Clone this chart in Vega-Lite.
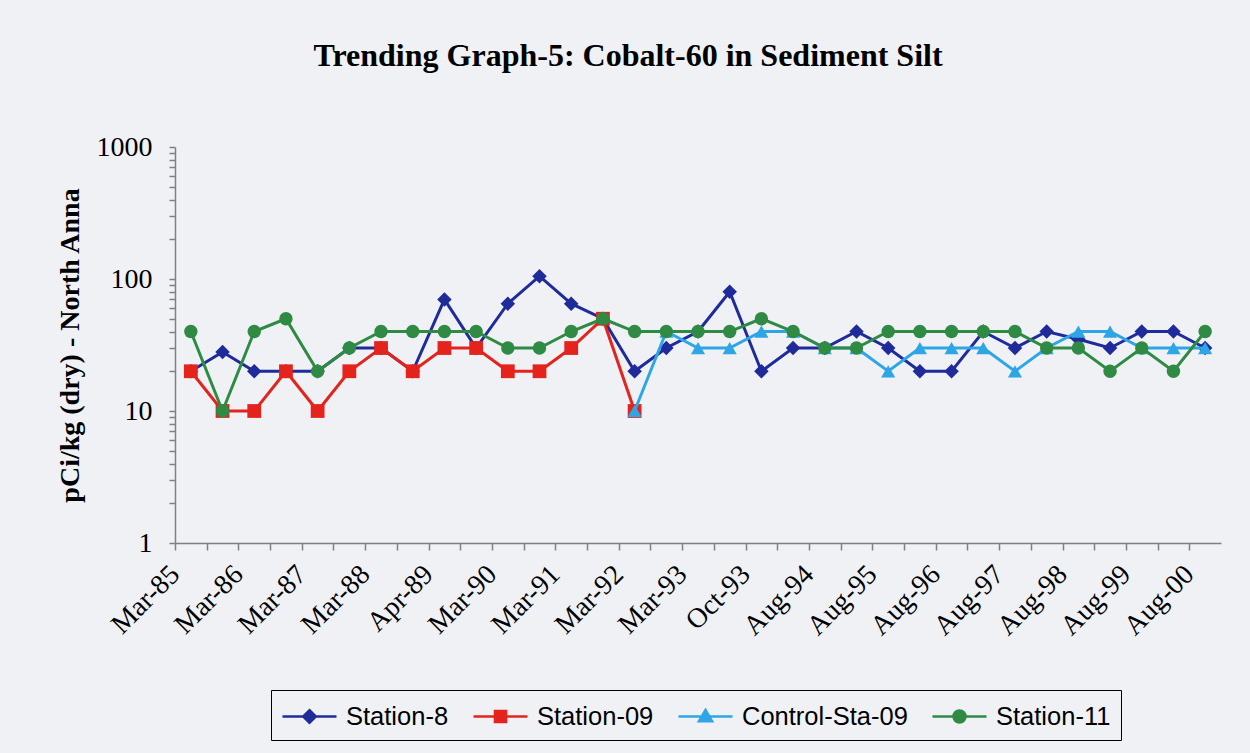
{
  "$schema": "https://vega.github.io/schema/vega-lite/v6.json",
  "width": 1046,
  "height": 396,
  "autosize": {"type": "none"},
  "padding": {"left": 175, "top": 147, "right": 29, "bottom": 210},
  "background": "#eff1f5",
  "title": {
    "text": "Trending Graph-5: Cobalt-60 in Sediment Silt",
    "font": "Liberation Serif",
    "fontSize": 32,
    "fontWeight": "bold",
    "color": "#000000",
    "anchor": "middle",
    "dx": -70,
    "offset": 60
  },
  "config": {"view": {"stroke": null}, "axis": {"grid": false}},
  "data": {
    "values": [
      {"date": "Mar-85", "series": "Station-8", "value": 20},
      {"date": "Sep-85", "series": "Station-8", "value": 28},
      {"date": "Mar-86", "series": "Station-8", "value": 20},
      {"date": "Sep-86", "series": "Station-8", "value": 20},
      {"date": "Mar-87", "series": "Station-8", "value": 20},
      {"date": "Sep-87", "series": "Station-8", "value": 30},
      {"date": "Mar-88", "series": "Station-8", "value": 30},
      {"date": "Sep-88", "series": "Station-8", "value": 20},
      {"date": "Apr-89", "series": "Station-8", "value": 70},
      {"date": "Sep-89", "series": "Station-8", "value": 30},
      {"date": "Mar-90", "series": "Station-8", "value": 65},
      {"date": "Sep-90", "series": "Station-8", "value": 105},
      {"date": "Mar-91", "series": "Station-8", "value": 65},
      {"date": "Sep-91", "series": "Station-8", "value": 50},
      {"date": "Mar-92", "series": "Station-8", "value": 20},
      {"date": "Sep-92", "series": "Station-8", "value": 30},
      {"date": "Mar-93", "series": "Station-8", "value": 40},
      {"date": "Jul-93", "series": "Station-8", "value": 80},
      {"date": "Oct-93", "series": "Station-8", "value": 20},
      {"date": "Mar-94", "series": "Station-8", "value": 30},
      {"date": "Aug-94", "series": "Station-8", "value": 30},
      {"date": "Feb-95", "series": "Station-8", "value": 40},
      {"date": "Aug-95", "series": "Station-8", "value": 30},
      {"date": "Feb-96", "series": "Station-8", "value": 20},
      {"date": "Aug-96", "series": "Station-8", "value": 20},
      {"date": "Feb-97", "series": "Station-8", "value": 40},
      {"date": "Aug-97", "series": "Station-8", "value": 30},
      {"date": "Feb-98", "series": "Station-8", "value": 40},
      {"date": "Aug-98", "series": "Station-8", "value": 35},
      {"date": "Feb-99", "series": "Station-8", "value": 30},
      {"date": "Aug-99", "series": "Station-8", "value": 40},
      {"date": "Feb-00", "series": "Station-8", "value": 40},
      {"date": "Aug-00", "series": "Station-8", "value": 30},
      {"date": "Mar-85", "series": "Station-09", "value": 20},
      {"date": "Sep-85", "series": "Station-09", "value": 10},
      {"date": "Mar-86", "series": "Station-09", "value": 10},
      {"date": "Sep-86", "series": "Station-09", "value": 20},
      {"date": "Mar-87", "series": "Station-09", "value": 10},
      {"date": "Sep-87", "series": "Station-09", "value": 20},
      {"date": "Mar-88", "series": "Station-09", "value": 30},
      {"date": "Sep-88", "series": "Station-09", "value": 20},
      {"date": "Apr-89", "series": "Station-09", "value": 30},
      {"date": "Sep-89", "series": "Station-09", "value": 30},
      {"date": "Mar-90", "series": "Station-09", "value": 20},
      {"date": "Sep-90", "series": "Station-09", "value": 20},
      {"date": "Mar-91", "series": "Station-09", "value": 30},
      {"date": "Sep-91", "series": "Station-09", "value": 50},
      {"date": "Mar-92", "series": "Station-09", "value": 10},
      {"date": "Mar-92", "series": "Control-Sta-09", "value": 10},
      {"date": "Sep-92", "series": "Control-Sta-09", "value": 40},
      {"date": "Mar-93", "series": "Control-Sta-09", "value": 30},
      {"date": "Jul-93", "series": "Control-Sta-09", "value": 30},
      {"date": "Oct-93", "series": "Control-Sta-09", "value": 40},
      {"date": "Mar-94", "series": "Control-Sta-09", "value": 40},
      {"date": "Aug-94", "series": "Control-Sta-09", "value": 30},
      {"date": "Feb-95", "series": "Control-Sta-09", "value": 30},
      {"date": "Aug-95", "series": "Control-Sta-09", "value": 20},
      {"date": "Feb-96", "series": "Control-Sta-09", "value": 30},
      {"date": "Aug-96", "series": "Control-Sta-09", "value": 30},
      {"date": "Feb-97", "series": "Control-Sta-09", "value": 30},
      {"date": "Aug-97", "series": "Control-Sta-09", "value": 20},
      {"date": "Feb-98", "series": "Control-Sta-09", "value": 30},
      {"date": "Aug-98", "series": "Control-Sta-09", "value": 40},
      {"date": "Feb-99", "series": "Control-Sta-09", "value": 40},
      {"date": "Aug-99", "series": "Control-Sta-09", "value": 30},
      {"date": "Feb-00", "series": "Control-Sta-09", "value": 30},
      {"date": "Aug-00", "series": "Control-Sta-09", "value": 30},
      {"date": "Mar-85", "series": "Station-11", "value": 40},
      {"date": "Sep-85", "series": "Station-11", "value": 10},
      {"date": "Mar-86", "series": "Station-11", "value": 40},
      {"date": "Sep-86", "series": "Station-11", "value": 50},
      {"date": "Mar-87", "series": "Station-11", "value": 20},
      {"date": "Sep-87", "series": "Station-11", "value": 30},
      {"date": "Mar-88", "series": "Station-11", "value": 40},
      {"date": "Sep-88", "series": "Station-11", "value": 40},
      {"date": "Apr-89", "series": "Station-11", "value": 40},
      {"date": "Sep-89", "series": "Station-11", "value": 40},
      {"date": "Mar-90", "series": "Station-11", "value": 30},
      {"date": "Sep-90", "series": "Station-11", "value": 30},
      {"date": "Mar-91", "series": "Station-11", "value": 40},
      {"date": "Sep-91", "series": "Station-11", "value": 50},
      {"date": "Mar-92", "series": "Station-11", "value": 40},
      {"date": "Sep-92", "series": "Station-11", "value": 40},
      {"date": "Mar-93", "series": "Station-11", "value": 40},
      {"date": "Jul-93", "series": "Station-11", "value": 40},
      {"date": "Oct-93", "series": "Station-11", "value": 50},
      {"date": "Mar-94", "series": "Station-11", "value": 40},
      {"date": "Aug-94", "series": "Station-11", "value": 30},
      {"date": "Feb-95", "series": "Station-11", "value": 30},
      {"date": "Aug-95", "series": "Station-11", "value": 40},
      {"date": "Feb-96", "series": "Station-11", "value": 40},
      {"date": "Aug-96", "series": "Station-11", "value": 40},
      {"date": "Feb-97", "series": "Station-11", "value": 40},
      {"date": "Aug-97", "series": "Station-11", "value": 40},
      {"date": "Feb-98", "series": "Station-11", "value": 30},
      {"date": "Aug-98", "series": "Station-11", "value": 30},
      {"date": "Feb-99", "series": "Station-11", "value": 20},
      {"date": "Aug-99", "series": "Station-11", "value": 30},
      {"date": "Feb-00", "series": "Station-11", "value": 20},
      {"date": "Aug-00", "series": "Station-11", "value": 40}
    ]
  },
  "encoding": {
    "x": {
      "field": "date",
      "type": "ordinal",
      "sort": null,
      "scale": {
        "type": "point",
        "padding": 0.5,
        "domain": ["Mar-85","Sep-85","Mar-86","Sep-86","Mar-87","Sep-87","Mar-88","Sep-88","Apr-89","Sep-89","Mar-90","Sep-90","Mar-91","Sep-91","Mar-92","Sep-92","Mar-93","Jul-93","Oct-93","Mar-94","Aug-94","Feb-95","Aug-95","Feb-96","Aug-96","Feb-97","Aug-97","Feb-98","Aug-98","Feb-99","Aug-99","Feb-00","Aug-00"]
      },
      "axis": {
        "title": null,
        "labelAngle": -45,
        "labelAlign": "right",
        "labelBaseline": "middle",
        "labelFont": "Liberation Serif",
        "labelFontSize": 28,
        "labelColor": "#000000",
        "labelOverlap": false,
        "labelBound": false,
        "labelFlush": false,
        "labelPadding": 20,
        "labelExpr": "indexof(['Mar-85','Mar-86','Mar-87','Mar-88','Apr-89','Mar-90','Mar-91','Mar-92','Mar-93','Oct-93','Aug-94','Aug-95','Aug-96','Aug-97','Aug-98','Aug-99','Aug-00'], datum.value) >= 0 ? datum.value : ''",
        "tickOffset": -15.85,
        "tickSize": 7,
        "tickColor": "#808080",
        "tickWidth": 1.5,
        "domainColor": "#808080",
        "domainWidth": 1.5
      }
    },
    "y": {
      "field": "value",
      "type": "quantitative",
      "scale": {"type": "log", "domain": [1, 1000], "nice": false},
      "axis": {
        "title": "pCi/kg (dry) - North Anna",
        "titleFont": "Liberation Serif",
        "titleFontSize": 28,
        "titleFontWeight": "bold",
        "titleColor": "#000000",
        "titleAngle": -90,
        "titleAlign": "center",
        "titleBaseline": "middle",
        "titleX": -105,
        "titleY": 198,
        "values": [1,2,3,4,5,6,7,8,9,10,20,30,40,50,60,70,80,90,100,200,300,400,500,600,700,800,900,1000],
        "format": "d",
        "labelExpr": "indexof([1,10,100,1000], datum.value) >= 0 ? datum.label : ''",
        "labelFont": "Liberation Serif",
        "labelFontSize": 28,
        "labelColor": "#000000",
        "labelPadding": 17,
        "labelOverlap": false,
        "tickSize": 6,
        "tickColor": "#808080",
        "tickWidth": 1.5,
        "domainColor": "#808080",
        "domainWidth": 1.5
      }
    },
    "color": {
      "field": "series",
      "type": "nominal",
      "scale": {
        "domain": ["Station-8", "Station-09", "Control-Sta-09", "Station-11"],
        "range": ["#1f2b9b", "#e3231c", "#2ea6e6", "#2f8a44"]
      },
      "legend": {
        "title": null,
        "orient": "none",
        "legendX": 96,
        "legendY": 543,
        "direction": "horizontal",
        "strokeColor": "#000000",
        "padding": 10,
        "symbolSize": 900,
        "symbolOpacity": 1,
        "symbolStrokeWidth": 2.5,
        "labelFont": "Liberation Sans",
        "labelFontSize": 25.5,
        "labelLimit": 400,
        "labelColor": "#000000",
        "labelOffset": 32,
        "columnPadding": 19,
        "encode": {
          "symbols": {
            "update": {
              "shape": {"signal": "datum.value === 'Station-8' ? 'M-1,0H2.6M0.8,-0.42L1.22,0L0.8,0.42L0.38,0Z' : datum.value === 'Station-09' ? 'M-1,0H2.6M0.43,-0.37H1.17V0.37H0.43Z' : datum.value === 'Control-Sta-09' ? 'M-1,0H2.6M0.8,-0.44L1.24,0.32H0.36Z' : 'M-1,0H2.6M0.4,0A0.4,0.4,0,1,0,1.2,0A0.4,0.4,0,1,0,0.4,0Z'"},
              "fill": {"scale": "color", "field": "value"},
              "stroke": {"scale": "color", "field": "value"},
              "strokeWidth": {"value": 2.5},
              "opacity": {"value": 1}
            }
          }
        }
      }
    }
  },
  "layer": [
    {"transform": [{"filter": "datum.series === 'Station-8'"}], "mark": {"type": "line", "strokeWidth": 3}},
    {"transform": [{"filter": "datum.series === 'Station-8'"}], "mark": {"type": "point", "filled": true, "opacity": 1, "shape": "diamond", "size": 210}},
    {"transform": [{"filter": "datum.series === 'Station-09'"}], "mark": {"type": "line", "strokeWidth": 3}},
    {"transform": [{"filter": "datum.series === 'Station-09'"}], "mark": {"type": "point", "filled": true, "opacity": 1, "shape": "square", "size": 190}},
    {"transform": [{"filter": "datum.series === 'Control-Sta-09'"}], "mark": {"type": "line", "strokeWidth": 3}},
    {"transform": [{"filter": "datum.series === 'Control-Sta-09'"}], "mark": {"type": "point", "filled": true, "opacity": 1, "shape": "triangle-up", "size": 200}},
    {"transform": [{"filter": "datum.series === 'Station-11'"}], "mark": {"type": "line", "strokeWidth": 3}},
    {"transform": [{"filter": "datum.series === 'Station-11'"}], "mark": {"type": "point", "filled": true, "opacity": 1, "shape": "circle", "size": 180}}
  ]
}
